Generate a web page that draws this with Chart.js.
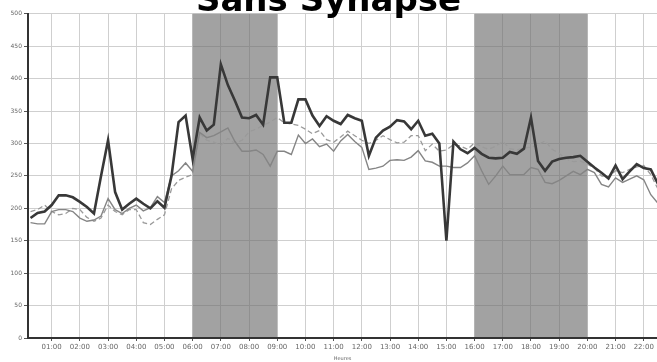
<!DOCTYPE html>
<html><head><meta charset="utf-8">
<script src="https://cdn.jsdelivr.net/npm/chart.js@4/dist/chart.umd.min.js"></script>
<style>
html,body{margin:0;padding:0;overflow:hidden;background:#fff;width:657px;height:362px;}
#wrap{position:absolute;left:0;top:-22px;width:657px;height:384px;}
</style></head><body>
<div id="wrap"><canvas id="c"></canvas></div>
<script>
const titleText = 'Sans Synapse';
const axisTitle = 'Heures';
const hourLabels = ['01:00','02:00','03:00','04:00','05:00','06:00','07:00','08:00','09:00','10:00','11:00',
  '12:00','13:00','14:00','15:00','16:00','17:00','18:00','19:00','20:00','21:00','22:00'];
const shadedPeriods = [[6, 9], [16, 20]];
const firstHour = 0.25, stepHour = 0.25; // one reading every quarter hour

// thick dark series
const seriesThick = [185,193,195,205, 220,220,217,210, 202,192,250,305, 225,198,207,215,
  207,200,211,201, 250,333,343,276, 340,320,329,422, 390,366,340,339, 344,329,402,402,
  332,332,368,368, 343,327,342,335, 330,344,339,335, 281,309,320,326, 336,334,322,335,
  312,315,300,150, 303,291,285,293, 284,278,277,278, 287,284,292,340, 273,258,272,276,
  278,279,281,272, 263,255,246,266, 245,257,268,262, 260,238];
// thin grey solid series
const seriesGrey = [178,176,176,195, 198,198,195,185, 180,182,188,215, 198,192,200,205,
  196,201,218,209, 250,258,270,257, 317,309,312,318, 324,303,288,288, 290,283,265,288,
  288,283,313,300, 307,295,299,288, 304,314,303,294, 260,262,265,274, 275,274,279,289,
  273,271,265,265, 263,263,270,281, 258,237,250,265, 252,252,252,263, 260,240,238,243,
  250,257,252,260, 255,237,233,247, 240,245,250,244, 221,208];
// dashed grey series
const seriesDashed = [195,198,205,195, 190,192,200,198, 186,180,185,205, 195,190,198,198,
  178,175,183,190, 230,243,248,252, 315,305,302,297, 308,300,305,318, 322,328,333,340,
  332,330,328,322, 315,320,306,302, 310,319,312,305, 300,305,312,306, 301,302,312,312,
  289,299,288,290, 298,296,291,301, 295,291,296,303, 292,290,293,294, 298,304,291,285,
  276,272,273,268, 262,250,248,258, 255,260,264,266, 252,230];

const toPoints = arr => arr.map((v, i) => ({x: firstHour + i * stepHour, y: v}));

const shadePlugin = {
  id: 'shade',
  beforeDatasetsDraw(chart) {
    const {ctx, chartArea: a, scales: {x}} = chart;
    ctx.save();
    ctx.fillStyle = 'rgba(105,105,105,0.62)';
    shadedPeriods.forEach(([s, e]) => {
      const x0 = x.getPixelForValue(s), x1 = x.getPixelForValue(e);
      ctx.fillRect(x0, a.top, x1 - x0, a.bottom - a.top - 1);
    });
    ctx.restore();
  }
};

const tickFont = {family: 'DejaVu Sans', size: 6};

new Chart(document.getElementById('c'), {
  type: 'line',
  data: {
    datasets: [
      {data: toPoints(seriesThick), borderColor: '#383838', borderWidth: 2.6, pointRadius: 0, tension: 0},
      {data: toPoints(seriesGrey), borderColor: '#858585', borderWidth: 1.4, pointRadius: 0, tension: 0},
      {data: toPoints(seriesDashed), borderColor: '#9a9a9a', borderWidth: 1.3, borderDash: [5, 3], pointRadius: 0, tension: 0}
    ]
  },
  options: {
    responsive: true,
    maintainAspectRatio: false,
    animation: false,
    layout: {padding: 0},
    plugins: {
      legend: {display: false},
      tooltip: {enabled: false},
      title: {
        display: true, text: titleText, color: '#000',
        font: {family: 'DejaVu Sans', size: 34, weight: 'bold', lineHeight: 1.2},
        padding: {top: 4, bottom: -9}
      }
    },
    scales: {
      x: {
        type: 'linear', min: 0.16, max: 22.47,
        afterBuildTicks(s) { s.ticks = hourLabels.map((l, i) => ({value: i + 1})); },
        afterFit(s) { s.height = 24; },
        ticks: {autoSkip: false, maxRotation: 0, font: {family: 'DejaVu Sans', size: 7}, color: '#666', padding: 2,
          callback: (v, i) => hourLabels[i]},
        grid: {color: '#cfcfcf', lineWidth: 1, tickLength: 3, tickColor: '#555'},
        border: {color: '#333', width: 2},
        title: {display: true, text: axisTitle, font: {family: 'DejaVu Sans', size: 5}, color: '#666', padding: {top: 1, bottom: 0}}
      },
      y: {
        min: 0, max: 500,
        afterFit(s) { s.width = 28; },
        ticks: {stepSize: 50, font: tickFont, color: '#666', padding: 2},
        grid: {color: '#cfcfcf', lineWidth: 1, tickLength: 4, tickColor: '#555'},
        border: {color: '#333', width: 2}
      }
    }
  },
  plugins: [shadePlugin]
});
</script>
</body></html>
